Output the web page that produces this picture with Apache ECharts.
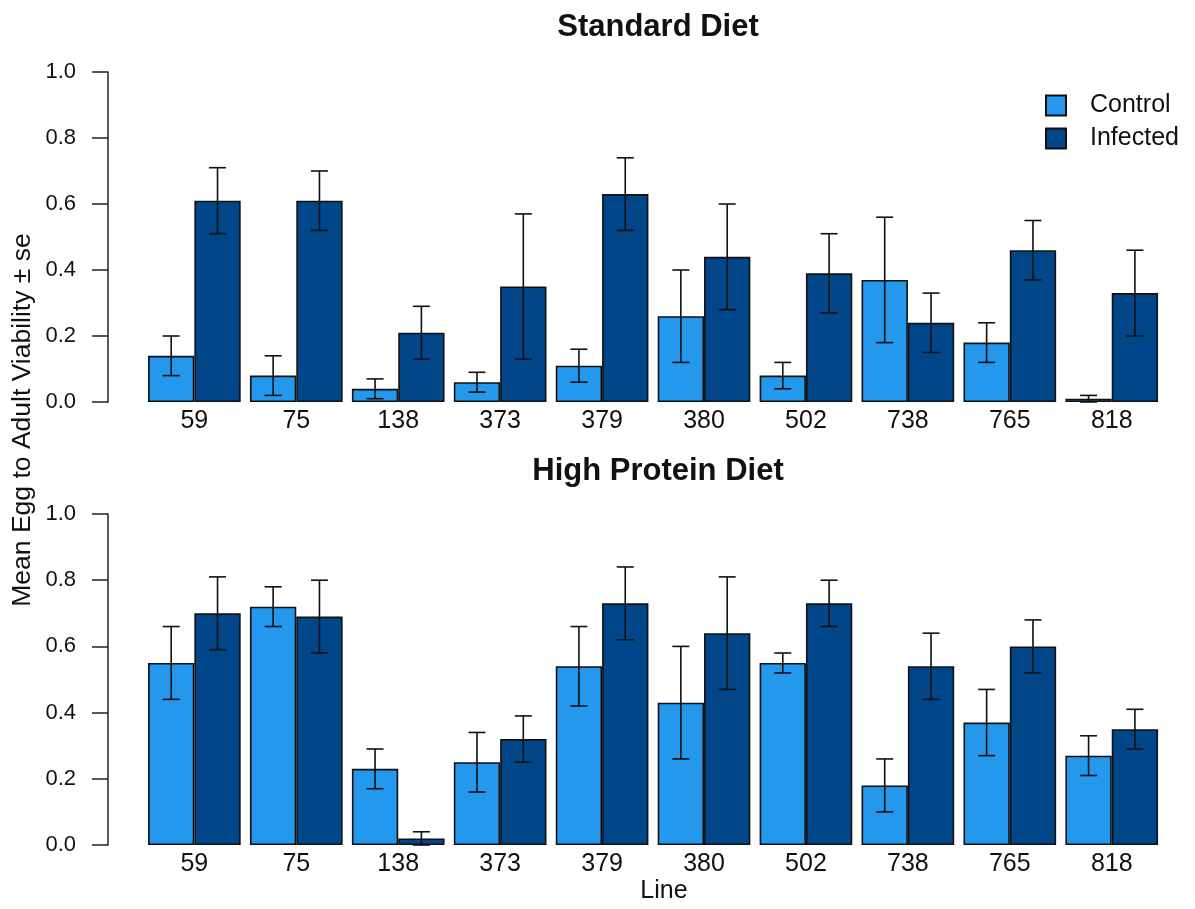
<!DOCTYPE html>
<html>
<head>
<meta charset="utf-8">
<script src="https://cdn.jsdelivr.net/npm/echarts@6/dist/echarts.min.js"></script>
<style>
html,body{margin:0;padding:0;background:#fff;}
#chart{width:1195px;height:909px;}
</style>
</head>
<body>
<div id="chart"></div>
<script>
// ---- data ----
const lines = ['59','75','138','373','379','380','502','738','765','818'];
const seriesNames = ['Control','Infected'];
const panelTitles = ['Standard Diet','High Protein Diet'];
const yTicks = [0, 0.2, 0.4, 0.6, 0.8, 1.0];

const stdControl      = [0.14,0.08,0.04,0.06,0.11,0.26,0.08,0.37,0.18,0.01];
const stdControlSE    = [0.06,0.06,0.03,0.03,0.05,0.14,0.04,0.19,0.06,0.01];
const stdInfected     = [0.61,0.61,0.21,0.35,0.63,0.44,0.39,0.24,0.46,0.33];
const stdInfectedSE   = [0.10,0.09,0.08,0.22,0.11,0.16,0.12,0.09,0.09,0.13];

const hpControl       = [0.55,0.72,0.23,0.25,0.54,0.43,0.55,0.18,0.37,0.27];
const hpControlSE     = [0.11,0.06,0.06,0.09,0.12,0.17,0.03,0.08,0.10,0.06];
const hpInfected      = [0.70,0.69,0.02,0.32,0.73,0.64,0.73,0.54,0.60,0.35];
const hpInfectedSE    = [0.11,0.11,0.02,0.07,0.11,0.17,0.07,0.10,0.08,0.06];

const colControl = '#2398ed';
const colInfected = '#02468a';
const FONT = '"Liberation Sans", Arial, sans-serif';

// ---- build ----
const gridLeft = 143.4, gridWidth = 1019.3;
const grids = [
  {left: gridLeft, width: gridWidth, top: 72, height: 330},
  {left: gridLeft, width: gridWidth, top: 514, height: 331}
];

function errSeries(gi, vals, se, side) {
  return {
    type: 'custom',
    name: 'err' + gi + side,
    xAxisIndex: gi, yAxisIndex: gi,
    z: 10,
    silent: true,
    data: vals.map((v, i) => [i, Math.max(0, v - se[i]), v + se[i]]),
    renderItem: function (params, api) {
      const idx = api.value(0);
      const lo = api.coord([idx, api.value(1)]);
      const hi = api.coord([idx, api.value(2)]);
      const band = api.size([1, 0])[0];
      const w = band / 2.2;
      const x = lo[0] + side * w / 2;
      const cap = 8.5;
      const st = {stroke: '#111', lineWidth: 1.6};
      return {
        type: 'group',
        children: [
          {type: 'line', shape: {x1: x, y1: lo[1], x2: x, y2: hi[1]}, style: st},
          {type: 'line', shape: {x1: x - cap, y1: hi[1], x2: x + cap, y2: hi[1]}, style: st},
          {type: 'line', shape: {x1: x - cap, y1: lo[1], x2: x + cap, y2: lo[1]}, style: st}
        ]
      };
    }
  };
}

function barSeries(gi, name, vals, color) {
  return {
    type: 'bar',
    name: name,
    xAxisIndex: gi, yAxisIndex: gi,
    data: vals,
    barGap: '0%',
    barCategoryGap: (0.2 / 2.2 * 100) + '%',
    itemStyle: {color: color, borderColor: '#111', borderWidth: 1.6},
    emphasis: {disabled: true}
  };
}

const xAxes = grids.map((g, gi) => ({
  type: 'category', gridIndex: gi, data: lines,
  axisLine: {show: false}, axisTick: {show: false},
  axisLabel: {fontSize: 25, color: '#111', margin: 7, fontFamily: FONT, interval: 0}
}));
const yAxes = grids.map((g, gi) => ({
  type: 'value', gridIndex: gi, min: 0, max: 1, interval: 0.2,
  offset: 35.4,
  axisLine: {show: true, lineStyle: {color: '#222', width: 1.5}},
  axisTick: {show: true, length: 16, lineStyle: {color: '#222', width: 1.5}},
  splitLine: {show: false},
  axisLabel: {fontSize: 22, color: '#111', margin: 32, fontFamily: FONT,
    formatter: v => (yTicks.indexOf(Math.round(v*10)/10) >= 0 ? v.toFixed(1) : '')}
}));

const series = [
  barSeries(0, seriesNames[0], stdControl, colControl),
  barSeries(0, seriesNames[1], stdInfected, colInfected),
  barSeries(1, seriesNames[0], hpControl, colControl),
  barSeries(1, seriesNames[1], hpInfected, colInfected),
  errSeries(0, stdControl, stdControlSE, -1),
  errSeries(0, stdInfected, stdInfectedSE, 1),
  errSeries(1, hpControl, hpControlSE, -1),
  errSeries(1, hpInfected, hpInfectedSE, 1)
];

const chart = echarts.init(document.getElementById('chart'), null, {renderer: 'canvas'});
chart.setOption({
  animation: false,
  backgroundColor: '#fff',
  textStyle: {fontFamily: FONT},
  title: [
    {text: panelTitles[0], left: 653, top: 7, textAlign: 'center',
     textStyle: {fontSize: 31, fontWeight: 'bold', color: '#111', fontFamily: FONT}},
    {text: panelTitles[1], left: 653, top: 451, textAlign: 'center',
     textStyle: {fontSize: 31, fontWeight: 'bold', color: '#111', fontFamily: FONT}}
  ],
  legend: {
    data: seriesNames,
    orient: 'vertical',
    left: 1045, top: 93,
    itemWidth: 20, itemHeight: 20, itemGap: 8,
    icon: 'rect',
    padding: 0,
    selectedMode: false,
    textStyle: {fontSize: 25, color: '#111', fontFamily: FONT, padding: [0, 0, 0, 19]}
  },
  grid: grids,
  xAxis: xAxes,
  yAxis: yAxes,
  series: series,
  graphic: [
    {type: 'text', x: 23, y: 420, rotation: Math.PI / 2,
     style: {text: 'Mean Egg to Adult Viability \u00b1 se', fontSize: 26.5, fill: '#111',
       fontFamily: FONT, textAlign: 'center', textVerticalAlign: 'middle'}},
    {type: 'text', x: 664, y: 891,
     style: {text: 'Line', fontSize: 25, fill: '#111', fontFamily: FONT,
       textAlign: 'center', textVerticalAlign: 'middle'}}
  ]
});
</script>
</body>
</html>
